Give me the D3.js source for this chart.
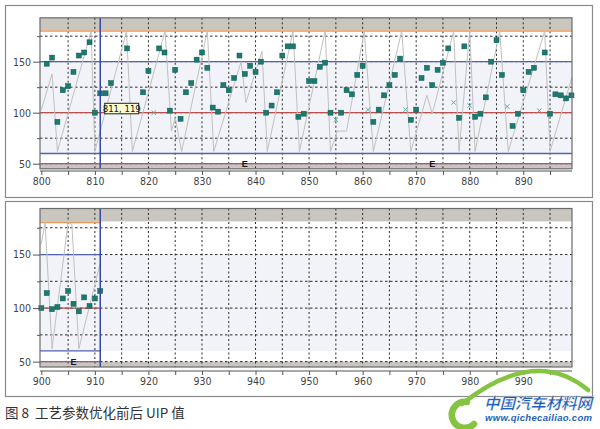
<!DOCTYPE html>
<html><head><meta charset="utf-8">
<script src="https://cdn.jsdelivr.net/npm/d3@7"></script>
<style>body{margin:0;background:#fff}svg{display:block}</style>
</head><body>
<svg id="c" width="600" height="429"></svg>
<script>
// ---------- DATA ----------
const topPointX = [801,802,803,804,805,806,807,808,809,810,811,812,813,816,819,820,822,823,824,825,826,827,828,829,830,831,832,833,834,835,836,837,838,839,840,841,842,843,844,845,846,847,848,849,850,851,852,853,854,856,857,858,859,860,862,863,864,865,866,867,869,870,871,872,873,874,875,876,878,879,881,882,883,884,885,886,888,889,890,891,892,894,895,896,897,898,899];
const topPointY = [148,154,91,122,126,140,156,159,169,100,119,119,129,163,120,141,163,159,102,142,94,120,129,152,159,144,105,101,127,122,134,156,138,146,140,150,100,107,120,156,165,165,96,99,131,131,145,149,100,100,122,118,137,146,91,103,117,127,137,153,93,103,134,144,127,142,149,163,95,165,96,99,115,150,171,137,87,99,122,140,144,159,99,118,117,114,117];
const topCrossX = [821,855,861,868,877,880,887,893];
const topCrossY = [100,93,103,103,110,107,106,102];
const topLineX = [800,802,803,809.3,810,815.9,817,823.1,824.3,825,826.2,831,832.2,837.3,838.2,841.2,842.2,847,848.2,853,854,855.3,857,860.3,862,867.3,869,872,873,877,878,880,881,885.6,887.2,894,895,899.1];
const topLineY = [103,138,62,180,62,180,62,180,82,95,62,180,62,150,110,160,62,180,62,180,62,82,82,180,62,180,62,117,99,180,62,180,62,180,62,180,62,135];

const botPointX = [900,901,902,903,904,905,906,907,908,909,910,911];
const botPointY = [100,114,99,101,109,116,104,97,110,102,109,116];
const botLineX = [900,900.7,902,905,905.7,907,911];
const botLineY = [160,180,62,180,178,62,142];

const limitValues = [180,150,100,60,50];
const gridValues = [50,75,100,125,150,175];
const yTickLabels = [50,100,150];
const topTicks = d3.range(800,900,5);
const botTicks = d3.range(900,1000,5);
const cursorTop = 811, cursorBot = 911;
const tooltipLabel = "811, 119";
const tooltipPoint = [811,119];
const topEventX = [838,873];
const botEventX = [906];
const caption = "图 8  工艺参数优化前后 UIP 值";

// ---------- STYLE ----------
const limitColors = ["#e8995c","#5361b6","#b8514e","#5361b6","#b34e99"];
const svg = d3.select("#c");
const tickFont = "'Liberation Sans Narrow','Arial Narrow','DejaVu Sans Condensed',sans-serif";

function panel(cfg){
  const g = svg.append("g");
  g.append("rect").attr("x",cfg.frame[0]+0.5).attr("y",cfg.frame[1]+0.5)
    .attr("width",cfg.frame[2]-cfg.frame[0]).attr("height",cfg.frame[3]-cfg.frame[1])
    .attr("fill","#fff").attr("stroke","#8a8a8a").attr("stroke-width",1.2);
  const x = d3.scaleLinear().domain(cfg.xDomain).range([cfg.x0,cfg.x1]);
  const y = d3.scaleLinear().domain([45,193]).range([cfg.yBot,cfg.yTop]);
  const xEnd = cfg.limitEnd!=null ? x(cfg.limitEnd) : cfg.x1;
  g.append("rect").attr("x",cfg.x0).attr("y",cfg.yTop).attr("width",cfg.x1-cfg.x0).attr("height",cfg.yBot-cfg.yTop).attr("fill","#fff");
  g.append("rect").attr("x",cfg.x0).attr("y",y(150)).attr("width",cfg.x1-cfg.x0).attr("height",y(60)-y(150)).attr("fill","#f1f3f8");
  g.append("rect").attr("x",cfg.x0).attr("y",cfg.yTop).attr("width",cfg.x1-cfg.x0).attr("height",y(180)-cfg.yTop-1).attr("fill","#c9c5bf");
  g.append("rect").attr("x",cfg.x0).attr("y",y(50)).attr("width",cfg.x1-cfg.x0).attr("height",cfg.yBot-y(50)).attr("fill","#c9c5bf");
  g.selectAll(".hg").data(gridValues).join("line")
    .attr("x1",cfg.x0).attr("x2",cfg.x1).attr("y1",d=>y(d)).attr("y2",d=>y(d))
    .attr("stroke","#2a2a2a").attr("stroke-dasharray","2.5,2.5").attr("stroke-width",1);
  g.selectAll(".vg").data(cfg.ticks.filter(t=>t!==cfg.ticks[0])).join("line")
    .attr("x1",d=>x(d)).attr("x2",d=>x(d)).attr("y1",cfg.yTop).attr("y2",cfg.yBot)
    .attr("stroke","#2a2a2a").attr("stroke-dasharray","2,2.5").attr("stroke-width",1);
  g.selectAll(".lim").data(limitValues).join("line")
    .attr("x1",cfg.x0).attr("x2",xEnd).attr("y1",d=>y(d)).attr("y2",d=>y(d))
    .attr("stroke",(d,i)=>limitColors[i]).attr("stroke-width",(d,i)=>i===0?1.6:1.3);
  const line = d3.line().x(d=>x(d[0])).y(d=>y(d[1]));
  g.append("path").datum(cfg.lineX.map((v,i)=>[v,cfg.lineY[i]]))
    .attr("d",line).attr("fill","none").attr("stroke","#c0c0c0").attr("stroke-width",1);
  const s = 5;
  g.selectAll(".pt").data(cfg.px.map((v,i)=>[v,cfg.py[i]])).join("rect")
    .attr("x",d=>x(d[0])-s/2).attr("y",d=>y(d[1])-s/2).attr("width",s).attr("height",s)
    .attr("fill","#1a7a70").attr("stroke","#0f5a52").attr("stroke-width",0.5);
  if(cfg.cx){
    const cr = 2.2;
    const cg = g.selectAll(".cx").data(cfg.cx.map((v,i)=>[v,cfg.cy[i]])).join("g")
      .attr("transform",d=>`translate(${x(d[0])},${y(d[1])})`);
    cg.append("line").attr("x1",-cr).attr("y1",-cr).attr("x2",cr).attr("y2",cr).attr("stroke","#5aa9a3").attr("stroke-width",1);
    cg.append("line").attr("x1",-cr).attr("y1",cr).attr("x2",cr).attr("y2",-cr).attr("stroke","#5aa9a3").attr("stroke-width",1);
  }
  g.selectAll(".ev").data(cfg.events).join("text")
    .attr("x",d=>x(d)).attr("y",y(50)+3.5).attr("text-anchor","middle")
    .attr("font-family","'Liberation Sans',Arial,sans-serif").attr("font-weight","bold").attr("font-size",9).attr("fill","#111").text("E");
  g.append("line").attr("x1",x(cfg.cursor)).attr("x2",x(cfg.cursor)).attr("y1",cfg.yTop).attr("y2",cfg.yBot)
    .attr("stroke","#3546a6").attr("stroke-width",1.5);
  g.append("rect").attr("x",cfg.x0).attr("y",cfg.yTop).attr("width",cfg.x1-cfg.x0).attr("height",cfg.yBot-cfg.yTop)
    .attr("fill","none").attr("stroke","#6b6b6b").attr("stroke-width",1.2);
  const xa = g.append("g").attr("transform",`translate(0,${cfg.axisY})`)
    .call(d3.axisBottom(x).tickValues(cfg.ticks).tickSize(4).tickSizeOuter(0).tickFormat(d=>d%10===0?d:""));
  xa.select(".domain").attr("stroke","#555").attr("d",`M${cfg.x0},0H${cfg.x1}`).attr("stroke-width",1.2);
  xa.selectAll(".tick line").attr("stroke","#555");
  xa.selectAll(".tick text").attr("font-family",tickFont).attr("font-size",10.5).attr("fill","#444").attr("dy","0.9em").attr("y",5);
  const ya = g.append("g").attr("transform",`translate(${cfg.x0},0)`)
    .call(d3.axisLeft(y).tickValues(gridValues).tickSize(7).tickSizeOuter(0).tickFormat(d=>yTickLabels.includes(d)?d:""));
  ya.select(".domain").remove();
  ya.selectAll(".tick line").attr("stroke","#555").attr("x2",d=>yTickLabels.includes(d)?-7:-3);
  ya.selectAll(".tick text").attr("font-family",tickFont).attr("font-size",10.5).attr("fill","#444").attr("x",-9);
  return {x,y,g};
}

const tp = panel({frame:[5,5,592,197],xDomain:[799.75,899.1],x0:40,x1:572,yTop:17.8,yBot:168.8,axisY:171,
  ticks:topTicks,px:topPointX,py:topPointY,cx:topCrossX,cy:topCrossY,lineX:topLineX,lineY:topLineY,
  events:topEventX,cursor:cursorTop});
const bp = panel({frame:[5,201,592,396],xDomain:[899.75,999.1],x0:40,x1:572,yTop:208.5,yBot:367,axisY:371,
  ticks:botTicks,px:botPointX,py:botPointY,lineX:botLineX,lineY:botLineY,
  events:botEventX,cursor:cursorBot,limitEnd:cursorBot});

const tx = tp.x(tooltipPoint[0]) + 4.5, ty = tp.y(tooltipPoint[1]) + 10;
const tt = tp.g.append("g").attr("transform",`translate(${tx},${ty})`);
tt.append("rect").attr("width",34).attr("height",10.5).attr("fill","#ffffd2").attr("stroke","#222").attr("stroke-width",1);
tt.append("text").attr("x",17).attr("y",8.3).attr("text-anchor","middle").attr("font-family",tickFont)
  .attr("font-size",9.5).attr("fill","#111").text(tooltipLabel);

svg.append("text").attr("x",5).attr("y",418).attr("font-family","'Noto Sans CJK SC',sans-serif")
  .attr("font-size",13.5).attr("fill","#333").style("white-space","pre").text(caption);

const logo = svg.append("g");
logo.append("path").attr("d","M467,402 A13,13 0 1 0 474,424").attr("fill","none").attr("stroke","#85c441").attr("stroke-width",6.5).attr("stroke-linecap","round");
logo.append("path").attr("d","M462,404 Q535,346 588,390").attr("fill","none").attr("stroke","#85c441").attr("stroke-width",4.5).attr("stroke-linecap","round");
logo.append("text").attr("x",484).attr("y",409).attr("font-family","'Noto Sans CJK SC',sans-serif").attr("font-weight","bold")
  .attr("font-style","italic").attr("font-size",15.5).attr("fill","#1f5fb6").attr("stroke","#fff").attr("stroke-width",0.3)
  .attr("textLength",108).text("中国汽车材料网");
logo.append("text").attr("x",485).attr("y",421).attr("font-family","'Liberation Sans',Arial,sans-serif").attr("font-weight","bold")
  .attr("font-style","italic").attr("font-size",9.5).attr("fill","#2463b3").attr("textLength",107).text("www.qichecailiao.com");
</script>
</body></html>
